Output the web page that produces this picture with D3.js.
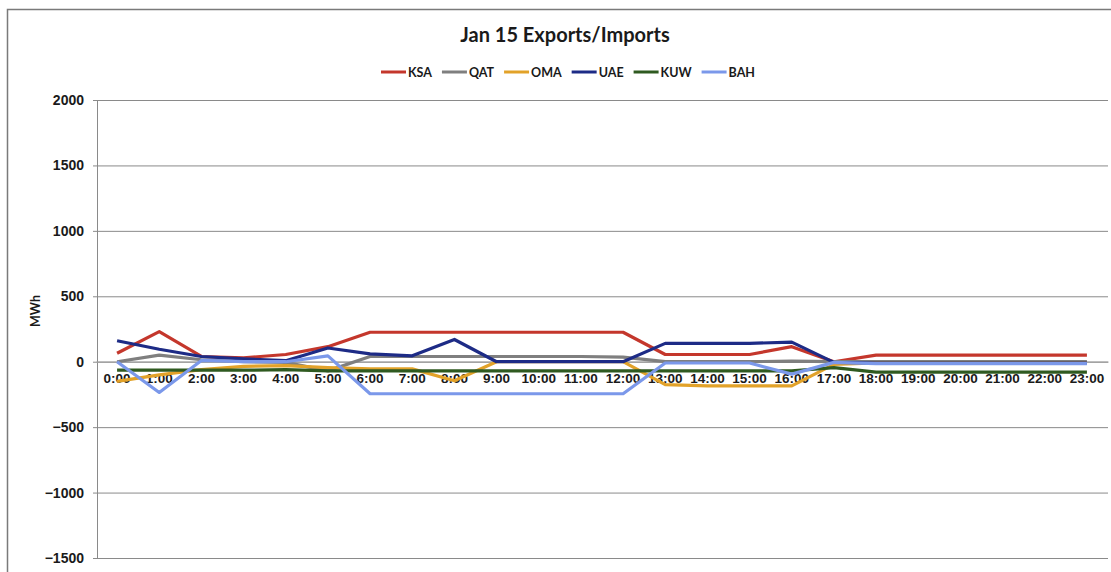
<!DOCTYPE html>
<html>
<head>
<meta charset="utf-8">
<script src="https://cdn.jsdelivr.net/npm/d3@7/dist/d3.min.js"></script>
<style>
  html, body { margin: 0; padding: 0; background: #fff; }
  svg { display: block; font-family: Lato, "Open Sans", sans-serif; }
</style>
</head>
<body>
<svg id="chart" width="1111" height="572"></svg>
<script>
// Hourly interconnector flows, MWh (positive = export, negative = import)
const hours = ["0:00","1:00","2:00","3:00","4:00","5:00","6:00","7:00","8:00","9:00","10:00","11:00",
               "12:00","13:00","14:00","15:00","16:00","17:00","18:00","19:00","20:00","21:00","22:00","23:00"];

const ksa = [65, 230, 40, 30, 55, 115, 225, 225, 225, 225, 225, 225, 225, 55, 55, 55, 115, 0, 50, 50, 50, 50, 50, 50];
const qat = [0, 50, 15, 0, -5, -70, 40, 40, 40, 40, 40, 40, 35, 0, 0, 0, 5, 0, 0, 0, 0, 0, 0, 0];
const oma = [-150, -100, -60, -35, -30, -45, -55, -55, -145, 0, 0, 0, 0, -175, -185, -185, -185, -20, -10, -10, -10, -10, -10, -10];
const uae = [160, 95, 40, 22, 8, 105, 60, 45, 170, 0, 0, 0, 0, 140, 140, 140, 150, -5, -10, -10, -10, -10, -10, -10];
const kuw = [-65, -65, -65, -65, -60, -70, -70, -70, -70, -70, -70, -70, -70, -70, -70, -70, -70, -45, -80, -80, -80, -80, -80, -80];
const bah = [0, -235, 10, 0, 0, 45, -245, -245, -245, -245, -245, -245, -245, -10, -10, -10, -95, -5, -15, -15, -15, -15, -15, -15];

const yTicks = [-1500, -1000, -500, 0, 500, 1000, 1500, 2000];

const seriesNames = ["KSA", "QAT", "OMA", "UAE", "KUW", "BAH"];
const seriesValues = [ksa, qat, oma, uae, kuw, bah];
const seriesColors = ["#c4372c", "#7f7f7f", "#e2a229", "#1d2b86", "#2f5a20", "#7b98ea"];

const svg = d3.select("#chart");

// outer chart frame (top and left edges)
svg.append("path")
  .attr("d", "M7.5,572 L7.5,9.5 L1111,9.5")
  .attr("fill", "none")
  .attr("stroke", "#7a7a7a")
  .attr("stroke-width", 1.5);

const plot = { left: 96, right: 1108, top: 100, bottom: 558 };

const x = d3.scaleBand().domain(hours).range([plot.left, plot.right]);
const y = d3.scaleLinear().domain([-1500, 2000]).range([plot.bottom, plot.top]);
const px = h => x(h) + x.bandwidth() / 2;

// horizontal gridlines + value axis
const yAxis = d3.axisLeft(y)
  .tickValues(yTicks)
  .tickSize(-(plot.right - plot.left))
  .tickPadding(12)
  .tickFormat(d3.format("d"));

const gy = svg.append("g")
  .attr("transform", `translate(${plot.left},0)`)
  .call(yAxis);
gy.select(".domain").remove();
gy.selectAll(".tick line")
  .attr("stroke", "#8a8a8a")
  .attr("stroke-width", 1)
  .attr("x1", -3);
gy.selectAll(".tick text")
  .attr("fill", "#1a1a1a")
  .attr("font-size", 14)
  .attr("font-weight", "bold");

// vertical axis line
svg.append("line")
  .attr("x1", plot.left + 1.5).attr("x2", plot.left + 1.5)
  .attr("y1", plot.top).attr("y2", plot.bottom)
  .attr("stroke", "#8a8a8a").attr("stroke-width", 1);

// category axis along zero
const xAxis = d3.axisBottom(x).tickSize(0).tickPadding(12);
const gx = svg.append("g")
  .attr("transform", `translate(0,${y(0)})`)
  .call(xAxis);
gx.select(".domain").attr("stroke", "#a0a0a0").attr("stroke-width", 1.2);
gx.selectAll(".tick text")
  .attr("fill", "#1a1a1a")
  .attr("font-size", 13.5)
  .attr("font-weight", "bold");

// axis title
svg.append("text")
  .attr("transform", "translate(40,311) rotate(-90)")
  .attr("text-anchor", "middle")
  .attr("font-size", 12.5)
  .attr("font-weight", "bold")
  .attr("fill", "#1a1a1a")
  .text("MWh");

// series lines
const line = d3.line()
  .x((d, i) => px(hours[i]))
  .y(d => y(d));

seriesValues.forEach((vals, k) => {
  svg.append("path")
    .datum(vals)
    .attr("fill", "none")
    .attr("stroke", seriesColors[k])
    .attr("stroke-width", 3.2)
    .attr("stroke-linejoin", "round")
    .attr("d", line);
});

// title
svg.append("text")
  .attr("x", 565).attr("y", 42)
  .attr("text-anchor", "middle")
  .attr("font-size", 20)
  .attr("font-weight", "bold")
  .attr("fill", "#1a1a1a")
  .text("Jan 15 Exports/Imports");

// legend
const legend = svg.append("g");
let cursor = 0;
seriesNames.forEach((name, k) => {
  const item = legend.append("g").attr("transform", `translate(${cursor},0)`);
  item.append("line")
    .attr("x1", 0).attr("x2", 25).attr("y1", 0).attr("y2", 0)
    .attr("stroke", seriesColors[k]).attr("stroke-width", 3);
  const t = item.append("text")
    .attr("x", 27).attr("y", 4.5)
    .attr("font-size", 12.5)
    .attr("font-weight", "bold")
    .attr("fill", "#1a1a1a")
    .text(name);
  cursor += 27 + t.node().getComputedTextLength() + 10;
});
const legendWidth = cursor - 10;
legend.attr("transform", `translate(${568 - legendWidth / 2},72)`);
</script>
</body>
</html>
